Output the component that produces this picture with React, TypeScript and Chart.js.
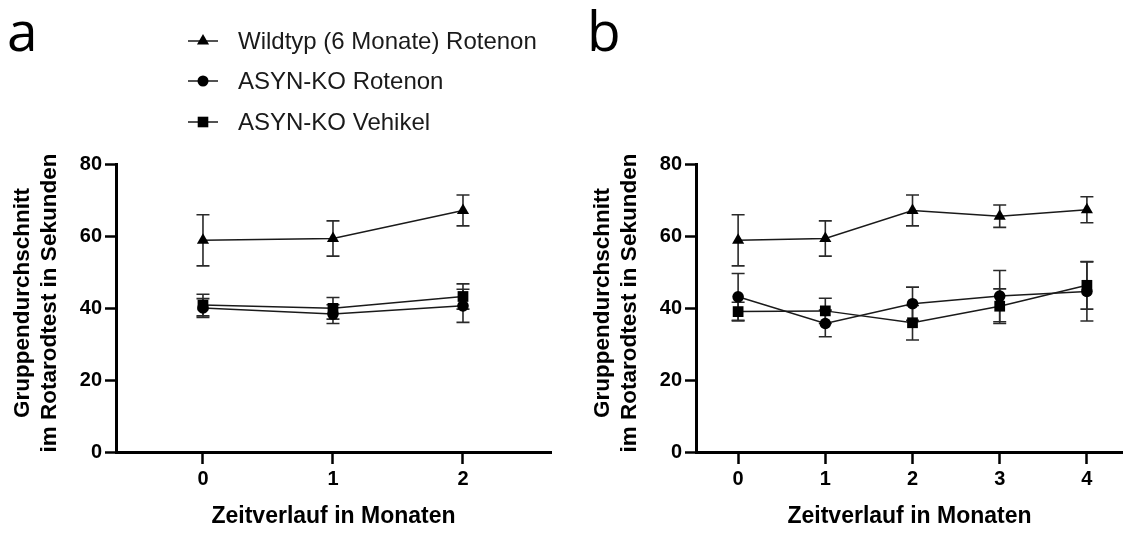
import React, { useEffect, useRef } from 'react';
import { Chart, registerables } from 'chart.js';

Chart.register(...registerables);

// ---------- data ----------
const monthsA = [0, 1, 2];
const monthsB = [0, 1, 2, 3, 4];
const seriesNames = ['Wildtyp (6 Monate) Rotenon', 'ASYN-KO Rotenon', 'ASYN-KO Vehikel'];
const seriesStyles = ['triangle', 'circle', 'rect'];

// Panel a
const wildtypA = [58.8, 59.3, 67.1];
const wildtypAErr = [7.1, 4.9, 4.3];
const koRotenonA = [40.0, 38.3, 40.6];
const koRotenonAErr = [2.6, 2.6, 4.6];
const koVehikelA = [40.8, 39.9, 43.2];
const koVehikelAErr = [3.0, 3.0, 3.5];

// Panel b
const wildtypB = [58.8, 59.3, 67.1, 65.5, 67.3];
const wildtypBErr = [7.1, 4.9, 4.3, 3.1, 3.6];
const koRotenonB = [43.1, 35.7, 41.2, 43.3, 44.6];
const koRotenonBErr = [6.5, 3.7, 4.6, 7.1, 8.2];
const koVehikelB = [39.0, 39.2, 35.9, 40.5, 46.3];
const koVehikelBErr = [2.6, 3.5, 4.8, 4.8, 6.6];

const yTicks = [0, 20, 40, 60, 80];
const yTitle = ['Gruppendurchschnitt', 'im Rotarodtest in Sekunden'];
const xTitle = 'Zeitverlauf in Monaten';

const FONT = '"Liberation Sans", Arial, Helvetica, sans-serif';
const LETTER_FONT = '"Open Sans", "DejaVu Sans", sans-serif';

function drawMarker(ctx: CanvasRenderingContext2D, style: string, x: number, y: number) {
  ctx.beginPath();
  if (style === 'triangle') {
    const r = 7;
    ctx.moveTo(x, y - r);
    ctx.lineTo(x + r * Math.sin((2 * Math.PI) / 3), y - r * Math.cos((2 * Math.PI) / 3));
    ctx.lineTo(x + r * Math.sin((4 * Math.PI) / 3), y - r * Math.cos((4 * Math.PI) / 3));
    ctx.closePath();
  } else if (style === 'circle') {
    ctx.arc(x, y, 5.5, 0, Math.PI * 2);
  } else {
    const s = 5.3;
    ctx.rect(x - s, y - s, 2 * s, 2 * s);
  }
  ctx.fillStyle = '#000';
  ctx.fill();
}

type PanelProps = {
  months: number[];
  values: number[][];
  errors: number[][];
  xMin: number;
  xMax: number;
  left: number;
  width: number;
  padRight: number;
  letter: string;
  showLegend: boolean;
};

function Panel(p: PanelProps) {
  const ref = useRef<HTMLCanvasElement | null>(null);
  useEffect(() => {
    if (!ref.current) return;

    const errorBars = {
      id: 'errorBars',
      beforeDatasetsDraw(chart: any) {
        const ctx = chart.ctx;
        const xs = chart.scales.x;
        const ys = chart.scales.y;
        ctx.save();
        ctx.strokeStyle = '#2a2a2a';
        ctx.lineWidth = 1.6;
        chart.data.datasets.forEach((ds: any) => {
          ds.data.forEach((pt: any, j: number) => {
            const e = ds.errors[j];
            const x = xs.getPixelForValue(pt.x);
            const yt = ys.getPixelForValue(pt.y + e);
            const yb = ys.getPixelForValue(pt.y - e);
            const cap = 6.5;
            ctx.beginPath();
            ctx.moveTo(x, yt);
            ctx.lineTo(x, yb);
            ctx.moveTo(x - cap, yt);
            ctx.lineTo(x + cap, yt);
            ctx.moveTo(x - cap, yb);
            ctx.lineTo(x + cap, yb);
            ctx.stroke();
          });
        });
        ctx.restore();
      },
    };

    const decorations = {
      id: 'decorations',
      afterDraw(chart: any) {
        const ctx = chart.ctx;
        ctx.save();
        ctx.fillStyle = '#000';
        ctx.font = `55px ${LETTER_FONT}`;
        ctx.textBaseline = 'alphabetic';
        ctx.textAlign = 'left';
        ctx.fillText(p.letter, 7, 51);

        // y-axis title (two rotated lines)
        ctx.save();
        ctx.font = `bold 22.5px ${FONT}`;
        ctx.fillStyle = '#000';
        ctx.textAlign = 'center';
        ctx.textBaseline = 'middle';
        const cy = 303;
        [23, 50].forEach((lx, i) => {
          ctx.save();
          ctx.translate(lx, cy);
          ctx.rotate(-Math.PI / 2);
          ctx.fillText(yTitle[i], 0, 0);
          ctx.restore();
        });
        ctx.restore();

        if (p.showLegend) {
          const rows = [41, 81, 122];
          seriesNames.forEach((name, i) => {
            const y = rows[i];
            ctx.strokeStyle = '#1a1a1a';
            ctx.lineWidth = 1.5;
            ctx.beginPath();
            ctx.moveTo(188, y);
            ctx.lineTo(218, y);
            ctx.stroke();
            drawMarker(ctx, seriesStyles[i], 203, y);
            ctx.fillStyle = '#1a1a1a';
            ctx.font = `24px ${FONT}`;
            ctx.textAlign = 'left';
            ctx.textBaseline = 'middle';
            ctx.fillText(name, 238, y + 1);
          });
        }
        ctx.restore();
      },
    };

    const datasets = p.values.map((vals, i) => ({
      label: seriesNames[i],
      data: p.months.map((m, j) => ({ x: m, y: vals[j] })),
      errors: p.errors[i],
      borderColor: '#1a1a1a',
      borderWidth: 1.5,
      backgroundColor: '#000',
      pointStyle: seriesStyles[i],
      pointRadius: seriesStyles[i] === 'triangle' ? 7 : seriesStyles[i] === 'circle' ? 5.8 : 7.6,
      pointBackgroundColor: '#000',
      pointBorderColor: '#000',
      pointBorderWidth: 0,
      fill: false,
      tension: 0,
      showLine: true,
    }));

    const tickFont = { family: FONT, size: 20, weight: 'bold' as const };
    const titleFont = { family: FONT, size: 23, weight: 'bold' as const };

    const chart = new Chart(ref.current, {
      type: 'line',
      data: { datasets: datasets as any },
      options: {
        animation: false,
        responsive: false,
        maintainAspectRatio: false,
        layout: { autoPadding: false, padding: { top: 164, right: p.padRight, left: 0, bottom: 0 } },
        plugins: { legend: { display: false }, tooltip: { enabled: false } },
        scales: {
          x: {
            type: 'linear',
            min: p.xMin,
            max: p.xMax,
            afterBuildTicks: (s: any) => {
              s.ticks = p.months.map((v) => ({ value: v }));
            },
            afterFit: (s: any) => {
              s.height = 81;
            },
            grid: {
              display: true,
              drawOnChartArea: false,
              drawTicks: true,
              tickLength: 12,
              tickWidth: 2.5,
              color: '#000',
              tickColor: '#000',
            },
            border: { display: true, color: '#000', width: 3 },
            ticks: {
              color: '#000',
              font: tickFont,
              padding: 3,
              autoSkip: false,
              maxRotation: 0,
              callback: (v: any) => String(v),
            },
            title: {
              display: true,
              text: xTitle,
              color: '#000',
              font: titleFont,
              padding: { top: 0, bottom: 3 },
            },
          },
          y: {
            type: 'linear',
            min: 0,
            max: 80,
            afterBuildTicks: (s: any) => {
              s.ticks = yTicks.map((v) => ({ value: v }));
            },
            afterFit: (s: any) => {
              s.width = 116;
            },
            grid: {
              display: true,
              drawOnChartArea: false,
              drawTicks: true,
              tickLength: 11,
              tickWidth: 2.5,
              color: '#000',
              tickColor: '#000',
            },
            border: { display: true, color: '#000', width: 3 },
            ticks: {
              color: '#000',
              font: tickFont,
              padding: 3,
              callback: (v: any) => String(v),
            },
            title: { display: false },
          },
        },
      },
      plugins: [errorBars, decorations],
    } as any);
    return () => chart.destroy();
  }, []);

  return (
    <canvas
      ref={ref}
      width={p.width}
      height={533}
      style={{ position: 'absolute', left: p.left, top: 0, width: p.width, height: 533, display: 'block' }}
    />
  );
}

export default function App() {
  return (
    <div
      style={{
        position: 'fixed',
        left: 0,
        top: 0,
        width: 1123,
        height: 533,
        background: '#fff',
        overflow: 'hidden',
      }}
    >
      <Panel
        months={monthsA}
        values={[wildtypA, koRotenonA, koVehikelA]}
        errors={[wildtypAErr, koRotenonAErr, koVehikelAErr]}
        xMin={-0.669}
        xMax={2.677}
        left={0}
        width={565}
        padRight={14}
        letter="a"
        showLegend={true}
      />
      <Panel
        months={monthsB}
        values={[wildtypB, koRotenonB, koVehikelB]}
        errors={[wildtypBErr, koRotenonBErr, koVehikelBErr]}
        xMin={-0.483}
        xMax={4.414}
        left={580}
        width={543}
        padRight={0}
        letter="b"
        showLegend={false}
      />
    </div>
  );
}
